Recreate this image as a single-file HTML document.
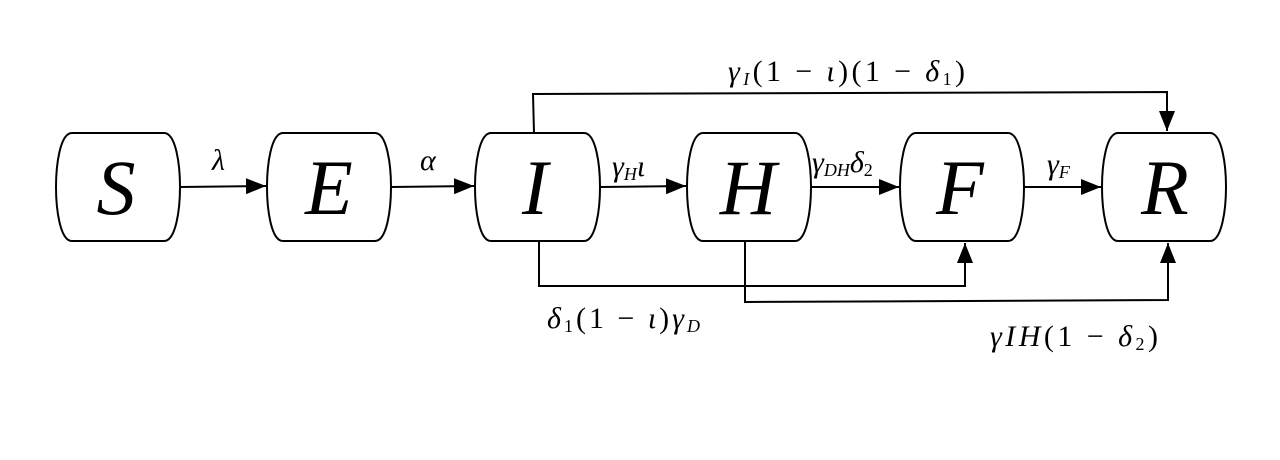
<!DOCTYPE html>
<html><head><meta charset="utf-8"><style>
html,body{margin:0;padding:0;background:#fff;width:1280px;height:460px;overflow:hidden}
text{font-family:"Liberation Serif","DejaVu Serif",serif;fill:#000}
.big{font-size:78px;font-style:italic}
.lab{font-size:30px}
.i{font-style:italic}
</style></head><body>
<svg width="1280" height="460" viewBox="0 0 1280 460" xmlns="http://www.w3.org/2000/svg">
<defs>
<marker id="b" markerWidth="20" markerHeight="16" refX="20" refY="8" orient="auto" markerUnits="userSpaceOnUse" viewBox="0 0 20 16">
<path d="M0,0 L20,8 L0,16 Z" fill="#000"/></marker>
</defs>
<g fill="#fff" stroke="#000" stroke-width="2">
<path d="M72,133 H164 C176,133 180,165 180,187 C180,209 176,241 164,241 H72 C60,241 56,209 56,187 C56,165 60,133 72,133 Z"/>
<path d="M283,133 H375 C387,133 391,165 391,187 C391,209 387,241 375,241 H283 C271,241 267,209 267,187 C267,165 271,133 283,133 Z"/>
<path d="M491,133 H584 C596,133 600,165 600,187 C600,209 596,241 584,241 H491 C479,241 475,209 475,187 C475,165 479,133 491,133 Z"/>
<path d="M703,133 H795 C807,133 811,165 811,187 C811,209 807,241 795,241 H703 C691,241 687,209 687,187 C687,165 691,133 703,133 Z"/>
<path d="M916,133 H1008 C1020,133 1024,165 1024,187 C1024,209 1020,241 1008,241 H916 C904,241 900,209 900,187 C900,165 904,133 916,133 Z"/>
<path d="M1118,133 H1210 C1222,133 1226,165 1226,187 C1226,209 1222,241 1210,241 H1118 C1106,241 1102,209 1102,187 C1102,165 1106,133 1118,133 Z"/>
</g>
<g stroke="#000" stroke-width="2" fill="none">
<line x1="180" y1="187" x2="266" y2="186" marker-end="url(#b)"/>
<line x1="391" y1="187" x2="474" y2="186" marker-end="url(#b)"/>
<line x1="600" y1="187" x2="686" y2="186" marker-end="url(#b)"/>
<line x1="811" y1="187" x2="899" y2="187" marker-end="url(#b)"/>
<line x1="1024" y1="187" x2="1101" y2="187" marker-end="url(#b)"/>
<polyline points="534,133 533,94 1167,92 1167,131" marker-end="url(#b)"/>
<polyline points="539,241 539,286 965,286 965,243" marker-end="url(#b)"/>
<polyline points="745,241 745,302 1168,300 1168,243" marker-end="url(#b)"/>
</g>
<g class="big" text-anchor="middle">
<text x="116" y="214">S</text>
<text x="329" y="214">E</text>
<text x="535" y="214">I</text>
<text x="748" y="214">H</text>
<text x="960" y="214">F</text>
<text x="1165" y="214">R</text>
</g>
<g class="lab">
<text x="212" y="170" class="i">λ</text>
<text x="420" y="170" class="i">α</text>
<text x="612" y="176"><tspan class="i">γ</tspan><tspan class="i" font-size="18" dy="4">H</tspan><tspan class="i" dy="-4">ι</tspan></text>
<text x="812" y="172"><tspan class="i">γ</tspan><tspan class="i" font-size="18" dy="4">DH</tspan><tspan class="i" dy="-4">δ</tspan><tspan font-size="18" dy="4">2</tspan></text>
<text x="1047" y="174"><tspan class="i">γ</tspan><tspan class="i" font-size="18" dy="4">F</tspan></text>
<text x="728" y="81" textLength="237" lengthAdjust="spacing"><tspan class="i">γ</tspan><tspan class="i" font-size="18" dy="4">I</tspan><tspan dy="-4">(1 − </tspan><tspan class="i">ι</tspan><tspan>)(1 − </tspan><tspan class="i">δ</tspan><tspan font-size="18" dy="4">1</tspan><tspan dy="-4">)</tspan></text>
<text x="547" y="328" textLength="153" lengthAdjust="spacing"><tspan class="i">δ</tspan><tspan font-size="18" dy="4">1</tspan><tspan dy="-4">(1 − </tspan><tspan class="i">ι</tspan><tspan>)</tspan><tspan class="i">γ</tspan><tspan class="i" font-size="18" dy="4">D</tspan></text>
<text x="990" y="346" textLength="168" lengthAdjust="spacing"><tspan class="i">γIH</tspan><tspan>(1 − </tspan><tspan class="i">δ</tspan><tspan font-size="18" dy="4">2</tspan><tspan dy="-4">)</tspan></text>
</g>
</svg>
</body></html>
